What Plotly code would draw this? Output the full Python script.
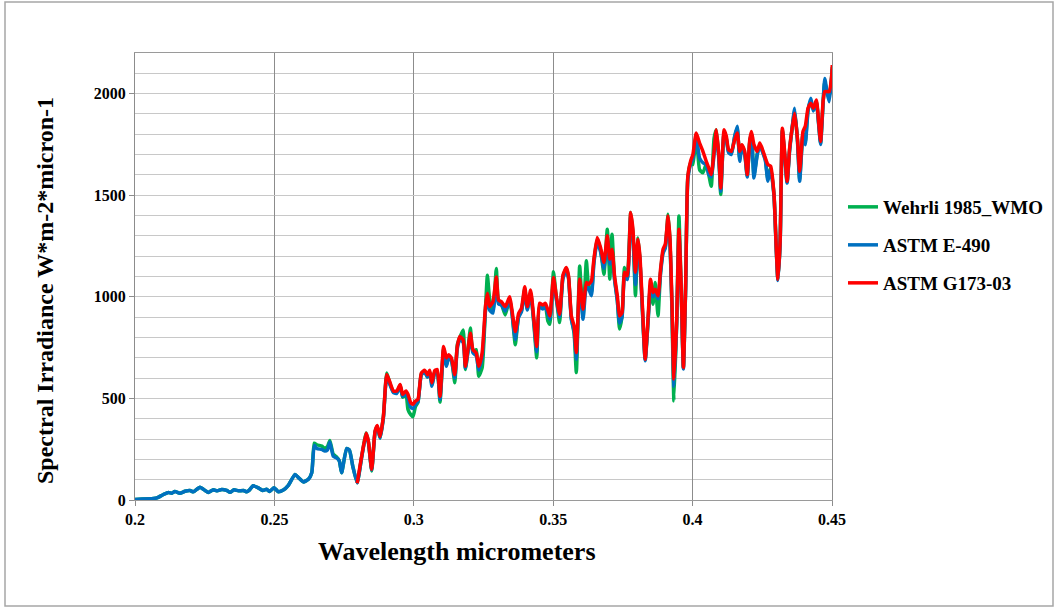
import plotly.graph_objects as go

# Wavelength (micrometers)
wavelength = [
    0.2000, 0.2066, 0.2078, 0.2102, 0.2120, 0.2132, 0.2143, 0.2161, 0.2179, 0.2197,
    0.2209, 0.2233, 0.2251, 0.2263, 0.2281, 0.2295, 0.2311, 0.2329, 0.2341, 0.2355,
    0.2371, 0.2389, 0.2401, 0.2409, 0.2424, 0.2442, 0.2458, 0.2472, 0.2482, 0.2499,
    0.2514, 0.2532, 0.2550, 0.2574, 0.2586, 0.2604, 0.2622, 0.2634, 0.2643, 0.2652,
    0.2670, 0.2681, 0.2690, 0.2699, 0.2711, 0.2723, 0.2733, 0.2741, 0.2759, 0.2769,
    0.2781, 0.2797,
    0.2813, 0.2829, 0.2837, 0.2849, 0.2861, 0.2869, 0.2879, 0.2891, 0.2903, 0.2915,
    0.2927, 0.2939, 0.2951, 0.2960, 0.2972, 0.2979, 0.2989, 0.2997, 0.3006, 0.3015,
    0.3027, 0.3039, 0.3049, 0.3057, 0.3065, 0.3075, 0.3084, 0.3094, 0.3107, 0.3117,
    0.3125, 0.3135, 0.3147, 0.3156, 0.3165, 0.3177, 0.3185, 0.3194, 0.3203, 0.3212,
    0.3224, 0.3233, 0.3245, 0.3257, 0.3264, 0.3272, 0.3284, 0.3296, 0.3304, 0.3314,
    0.3328, 0.3344, 0.3352, 0.3364, 0.3376, 0.3386, 0.3398, 0.3407, 0.3419, 0.3431,
    0.3441, 0.3451, 0.3463, 0.3472, 0.3481, 0.3488, 0.3501, 0.3511, 0.3523, 0.3535,
    0.3547, 0.3555, 0.3565, 0.3575, 0.3583, 0.3595, 0.3607, 0.3619, 0.3627, 0.3637,
    0.3646, 0.3658, 0.3670, 0.3682, 0.3694, 0.3703, 0.3711, 0.3720, 0.3730, 0.3738,
    0.3747, 0.3756, 0.3766, 0.3778, 0.3786, 0.3795, 0.3804, 0.3811, 0.3820, 0.3830,
    0.3840, 0.3849, 0.3858, 0.3866, 0.3876, 0.3885, 0.3894, 0.3902, 0.3912, 0.3919,
    0.3926, 0.3933, 0.3943, 0.3951, 0.3959, 0.3967, 0.3975, 0.3983, 0.3993, 0.4001,
    0.4013, 0.4025, 0.4037, 0.4049, 0.4058, 0.4067, 0.4077, 0.4085, 0.4094, 0.4101,
    0.4113, 0.4121, 0.4129, 0.4139, 0.4151, 0.4160, 0.4169, 0.4177, 0.4187, 0.4196,
    0.4205, 0.4211, 0.4220, 0.4232, 0.4241, 0.4249, 0.4261, 0.4270, 0.4280, 0.4292,
    0.4300, 0.4306, 0.4314, 0.4322, 0.4330, 0.4339, 0.4348, 0.4357, 0.4366, 0.4376,
    0.4384, 0.4396, 0.4404, 0.4414, 0.4424, 0.4433, 0.4444, 0.4452, 0.4459, 0.4468,
    0.4474, 0.4483, 0.4490, 0.4498, 0.4501,
]

# Wehrli 1985_WMO
wehrli = [
    3, 7, 10, 27, 37, 33, 42, 33, 43, 47,
    40, 63, 47, 37, 50, 45, 52, 47, 38, 50,
    45, 47, 40, 47, 70, 60, 47, 53, 42, 60,
    41, 49, 72, 126, 110, 89, 102, 134, 280, 272,
    265, 255, 262, 293, 225, 212, 192, 134, 253, 246,
    167, 85,
    212, 330, 288, 143, 335, 362, 305, 410, 625, 570,
    532, 530, 565, 505, 520, 446, 420, 410, 460, 480,
    620, 635, 605, 632, 565, 630, 635, 482, 745, 665,
    705, 690, 577, 764, 800, 837, 642, 735, 846, 730,
    740, 609, 650, 940, 1106, 990, 930, 1139, 975, 965,
    911, 990, 925, 764, 905, 930, 1040, 940, 1020, 860,
    700, 955, 945, 955, 880, 865, 1123, 1000, 873, 1100,
    1140, 1095, 895, 820, 627, 1152, 900, 1177, 1050, 1020,
    1175, 1285, 1230, 1111, 1333, 1087, 1308, 1090, 985, 841,
    905, 1144, 1090, 1415, 1310, 1005, 1290, 1185, 935, 690,
    875, 1054, 964, 1070, 906, 1120, 1220, 1245, 1406, 1270,
    930, 488, 880, 1398, 1040, 650, 1045, 1590, 1660, 1651,
    1800, 1626, 1610, 1655, 1600, 1544, 1780, 1822, 1690, 1504,
    1810, 1780, 1715, 1705, 1790, 1830, 1680, 1745, 1705, 1595,
    1765, 1805, 1600, 1705, 1750, 1725, 1675, 1580, 1635, 1500,
    1240, 1085, 1270, 1820, 1705, 1565, 1725, 1830, 1915, 1775,
    1580, 1805, 1760, 1920, 1965, 1920, 1960, 1855, 1755, 1955,
    2060, 2005, 1980, 2070, 2130,
]

# ASTM E-490
astm_e490 = [
    3, 7, 10, 27, 37, 33, 42, 33, 43, 47,
    40, 63, 47, 37, 50, 45, 52, 47, 38, 50,
    45, 47, 40, 47, 70, 60, 47, 53, 42, 60,
    41, 49, 72, 126, 110, 89, 102, 134, 269, 253,
    249, 241, 246, 285, 216, 207, 192, 134, 253, 246,
    167, 85,
    210, 320, 285, 148, 332, 360, 305, 405, 612, 565,
    528, 525, 560, 510, 525, 500, 455, 450, 470, 485,
    615, 630, 605, 630, 560, 625, 630, 495, 740, 658,
    700, 685, 600, 745, 790, 775, 650, 725, 805, 725,
    710, 640, 700, 930, 990, 935, 920, 1070, 965, 960,
    930, 985, 920, 790, 900, 925, 1030, 935, 1015, 870,
    730, 950, 940, 950, 915, 890, 1070, 990, 900, 1090,
    1130, 1090, 890, 830, 693, 1070, 890, 1050, 1040, 1005,
    1165, 1270, 1220, 1140, 1280, 1160, 1215, 1085, 980, 870,
    900, 1100, 1085, 1395, 1300, 1060, 1265, 1180, 930, 685,
    870, 1060, 1000, 1020, 990, 1115, 1215, 1240, 1375, 1260,
    950, 560, 870, 1310, 1030, 645, 1040, 1580, 1655, 1680,
    1790, 1683, 1660, 1650, 1602, 1590, 1700, 1805, 1680, 1520,
    1805, 1775, 1710, 1700, 1790, 1839, 1667, 1740, 1700, 1590,
    1760, 1800, 1585, 1700, 1745, 1720, 1670, 1569, 1630, 1495,
    1235, 1080, 1265, 1815, 1700, 1560, 1720, 1830, 1928, 1770,
    1569, 1800, 1749, 1915, 1977, 1915, 1955, 1850, 1750, 1950,
    2075, 2000, 1960, 2065, 2120,
]

# ASTM G173-03 (starts at 0.28 micrometers)
astm_g173 = [
    82,
    216, 328, 290, 151, 339, 367, 312, 413, 618, 577,
    536, 536, 569, 520, 536, 520, 479, 471, 487, 495,
    625, 639, 617, 639, 577, 637, 642, 511, 756, 699,
    715, 699, 617, 756, 805, 789, 658, 740, 821, 740,
    723, 658, 723, 952, 1017, 952, 976, 1098, 984, 976,
    952, 1000, 935, 829, 919, 943, 1049, 952, 1033, 886,
    756, 968, 960, 968, 935, 906, 1095, 1005, 914, 1107,
    1144, 1103, 906, 857, 726, 1087, 939, 1070, 1062, 1078,
    1185, 1292, 1242, 1169, 1300, 1185, 1234, 1103, 1005, 906,
    923, 1121, 1103, 1415, 1333, 1121, 1283, 1201, 955, 693,
    890, 1087, 1021, 1037, 1005, 1136, 1234, 1259, 1398, 1283,
    972, 595, 890, 1333, 1054, 652, 1054, 1595, 1669, 1700,
    1806, 1757, 1716, 1667, 1634, 1602, 1716, 1822, 1700, 1536,
    1822, 1790, 1724, 1716, 1773, 1806, 1716, 1749, 1716, 1602,
    1773, 1814, 1749, 1716, 1757, 1732, 1683, 1651, 1643, 1504,
    1242, 1087, 1275, 1830, 1716, 1569, 1732, 1830, 1904, 1781,
    1618, 1814, 1839, 1928, 1953, 1928, 1969, 1863, 1765, 1961,
    2010, 2010, 2010, 2075, 2141,
]

series_names = ["Wehrli 1985_WMO", "ASTM E-490", "ASTM G173-03"]
series_colors = ["#00B050", "#0070C0", "#FF0000"]
x_tick_vals = [0.2, 0.25, 0.3, 0.35, 0.4, 0.45]
x_tick_text = ["0.2", "0.25", "0.3", "0.35", "0.4", "0.45"]
y_tick_vals = [0, 500, 1000, 1500, 2000]
y_tick_text = ["0", "500", "1000", "1500", "2000"]

FONT = "Liberation Serif, Times New Roman, serif"

g173_x = wavelength[len(wavelength) - len(astm_g173):]

series_data = [
    (wavelength, wehrli),
    (wavelength, astm_e490),
    (g173_x, astm_g173),
]
legend_ids = ["legend", "legend2", "legend3"]

fig = go.Figure()
for (xs, ys), name, color, lg in zip(series_data, series_names, series_colors, legend_ids):
    fig.add_trace(go.Scatter(
        x=xs, y=ys, mode="lines", name=name,
        line=dict(color=color, width=3.5, shape="spline", smoothing=0.5),
        legend=lg, showlegend=True,
    ))

L, R, T, B = 135, 223, 53, 108
W, H = 1055, 608
pw, ph = W - L - R, H - T - B

def px_x(p):
    return (p - L) / pw

def px_y(p):
    return (H - B - p) / ph

legend_font = dict(family=FONT, size=19, color="#000000", weight="bold")
legend_common = dict(x=px_x(843), xanchor="left", yanchor="middle",
                     bgcolor="rgba(0,0,0,0)", font=legend_font,
                     itemwidth=30, borderwidth=0)

tick_font = dict(family=FONT, size=16, color="#000000", weight="bold")

fig.update_layout(
    width=W, height=H,
    margin=dict(l=L, r=R, t=T, b=B, autoexpand=False),
    paper_bgcolor="white", plot_bgcolor="white",
    font=dict(family=FONT, color="#000000"),
    showlegend=True,
    legend=dict(y=px_y(207), **legend_common),
    legend2=dict(y=px_y(245), **legend_common),
    legend3=dict(y=px_y(283), **legend_common),
    xaxis=dict(
        range=[0.2, 0.45], tickvals=x_tick_vals,
        ticktext=["<b>%s</b>" % t for t in x_tick_text],
        showgrid=True, gridcolor="#8c8c8c", gridwidth=1,
        ticks="outside", ticklen=5, tickcolor="#8c8c8c",
        showline=True, linecolor="#9a9a9a", linewidth=1, mirror=True,
        zeroline=False, tickfont=tick_font, automargin=False,
    ),
    yaxis=dict(
        range=[0, 2200], tickvals=y_tick_vals,
        ticktext=["<b>%s</b>" % t for t in y_tick_text],
        showgrid=True, gridcolor="#c8c8c8", gridwidth=1.3,
        minor=dict(dtick=100, showgrid=True, gridcolor="#c8c8c8", gridwidth=1.3),
        ticks="outside", ticklen=5, tickcolor="#8c8c8c",
        showline=True, linecolor="#8c8c8c", linewidth=1, mirror=True,
        zeroline=False, tickfont=tick_font, automargin=False,
    ),
    annotations=[
        dict(text="<b>Wavelength micrometers</b>", xref="paper", yref="paper",
             x=px_x(457), y=px_y(551), xanchor="center", yanchor="middle",
             showarrow=False, font=dict(family=FONT, size=26, color="#000000")),
        dict(text="<b>Spectral Irradiance W*m-2*micron-1</b>", xref="paper", yref="paper",
             x=px_x(45), y=px_y(291), xanchor="center", yanchor="middle",
             textangle=-90, showarrow=False,
             font=dict(family=FONT, size=24, color="#000000")),
    ],
    shapes=[
        dict(type="rect", xref="paper", yref="paper",
             x0=px_x(5), x1=px_x(1053), y0=px_y(606), y1=px_y(2),
             line=dict(color="#a6a6a6", width=1.5), fillcolor="rgba(0,0,0,0)",
             layer="below"),
    ],
)

fig.write_html("out.html")
